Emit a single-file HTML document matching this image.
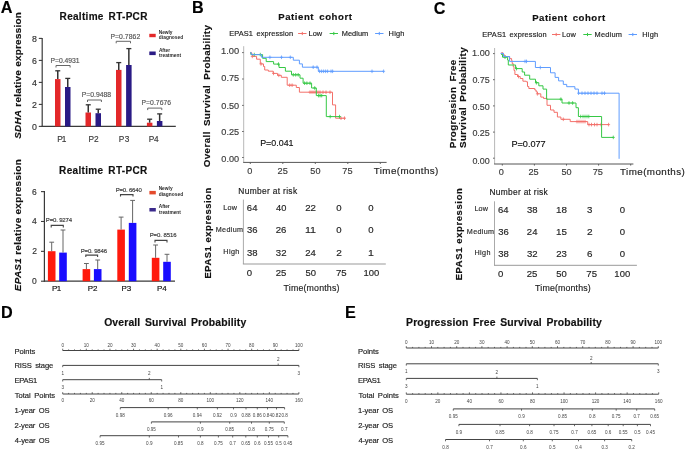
<!DOCTYPE html>
<html><head><meta charset="utf-8"><title>Figure</title>
<style>
html,body{margin:0;padding:0;background:#fff;}
body{width:685px;height:452px;overflow:hidden;}
svg{display:block;font-family:"Liberation Sans",sans-serif;filter:blur(0.35px);}
</style></head><body>
<svg width="685" height="452" viewBox="0 0 685 452">
<rect x="0" y="0" width="685" height="452" fill="#fff"/>
<text x="0.65" y="12.49" font-size="16.2" fill="#000" font-weight="bold" textLength="11.85" lengthAdjust="spacing" stroke="#000" stroke-width="0.16">A</text>
<text x="192.1" y="13.39" font-size="16.2" fill="#000" font-weight="bold" textLength="12.42" lengthAdjust="spacing" stroke="#000" stroke-width="0.16">B</text>
<text x="433.7" y="13.54" font-size="16.2" fill="#000" font-weight="bold" textLength="11.69" lengthAdjust="spacing" stroke="#000" stroke-width="0.16">C</text>
<text x="0.9" y="317.84" font-size="16.2" fill="#000" font-weight="bold" textLength="11.84" lengthAdjust="spacing" stroke="#000" stroke-width="0.16">D</text>
<text x="345.1" y="317.94" font-size="16.2" fill="#000" font-weight="bold" textLength="10.25" lengthAdjust="spacing" stroke="#000" stroke-width="0.16">E</text>
<text x="59.6" y="20.07" font-size="10" fill="#111" word-spacing="1.8" font-weight="bold" textLength="87.79" lengthAdjust="spacing" stroke="#111" stroke-width="0.16">Realtime RT-PCR</text>
<text transform="translate(20.9,138.85) rotate(-90)" font-size="9.9" fill="#111" font-weight="bold" textLength="126.69" lengthAdjust="spacing" stroke="#111" stroke-width="0.16"><tspan font-style="italic">SDHA</tspan> relative expression</text>
<line x1="42.2" y1="37.9" x2="42.2" y2="127" stroke="#3a3a3a" stroke-width="1.2"/>
<line x1="41.6" y1="126.4" x2="175.8" y2="126.4" stroke="#3a3a3a" stroke-width="1.2"/>
<line x1="38.8" y1="126.4" x2="42.2" y2="126.4" stroke="#3a3a3a" stroke-width="1.1"/>
<text x="31.92" y="129.78" font-size="8.8" fill="#333"  stroke="#333" stroke-width="0.16">0</text>
<line x1="38.8" y1="104.4" x2="42.2" y2="104.4" stroke="#3a3a3a" stroke-width="1.1"/>
<text x="32.06" y="107.78" font-size="8.8" fill="#333"  stroke="#333" stroke-width="0.16">2</text>
<line x1="38.8" y1="82.4" x2="42.2" y2="82.4" stroke="#3a3a3a" stroke-width="1.1"/>
<text x="31.88" y="85.78" font-size="8.8" fill="#333"  stroke="#333" stroke-width="0.16">4</text>
<line x1="38.8" y1="60.4" x2="42.2" y2="60.4" stroke="#3a3a3a" stroke-width="1.1"/>
<text x="31.97" y="63.78" font-size="8.8" fill="#333"  stroke="#333" stroke-width="0.16">6</text>
<line x1="38.8" y1="38.4" x2="42.2" y2="38.4" stroke="#3a3a3a" stroke-width="1.1"/>
<text x="31.97" y="41.78" font-size="8.8" fill="#333"  stroke="#333" stroke-width="0.16">8</text>
<rect x="55" y="79.1" width="5.5" height="47.3" fill="#e3282a"/>
<line x1="57.75" y1="70.8" x2="57.75" y2="79.1" stroke="#333" stroke-width="1.5"/>
<line x1="55.25" y1="70.8" x2="60.25" y2="70.8" stroke="#333" stroke-width="1.3"/>
<rect x="65" y="87" width="5.5" height="39.4" fill="#2a1b85"/>
<line x1="67.75" y1="78.4" x2="67.75" y2="87" stroke="#333" stroke-width="1.5"/>
<line x1="65.25" y1="78.4" x2="70.25" y2="78.4" stroke="#333" stroke-width="1.3"/>
<rect x="85.5" y="112.5" width="5.5" height="13.9" fill="#e3282a"/>
<line x1="88.25" y1="104.8" x2="88.25" y2="112.5" stroke="#333" stroke-width="1.5"/>
<line x1="85.75" y1="104.8" x2="90.75" y2="104.8" stroke="#333" stroke-width="1.3"/>
<rect x="95.5" y="113.2" width="5.5" height="13.2" fill="#2a1b85"/>
<line x1="98.25" y1="109.2" x2="98.25" y2="113.2" stroke="#333" stroke-width="1.5"/>
<line x1="95.75" y1="109.2" x2="100.75" y2="109.2" stroke="#333" stroke-width="1.3"/>
<rect x="116" y="69.9" width="5.5" height="56.5" fill="#e3282a"/>
<line x1="118.75" y1="62.6" x2="118.75" y2="69.9" stroke="#333" stroke-width="1.5"/>
<line x1="116.25" y1="62.6" x2="121.25" y2="62.6" stroke="#333" stroke-width="1.3"/>
<rect x="126.1" y="65" width="5.5" height="61.4" fill="#2a1b85"/>
<line x1="128.85" y1="48.6" x2="128.85" y2="65" stroke="#333" stroke-width="1.5"/>
<line x1="126.35" y1="48.6" x2="131.35" y2="48.6" stroke="#333" stroke-width="1.3"/>
<rect x="146.9" y="122.7" width="5.5" height="3.7" fill="#e3282a"/>
<line x1="149.65" y1="119.2" x2="149.65" y2="122.7" stroke="#333" stroke-width="1.5"/>
<line x1="147.15" y1="119.2" x2="152.15" y2="119.2" stroke="#333" stroke-width="1.3"/>
<rect x="156.9" y="121" width="5.5" height="5.4" fill="#2a1b85"/>
<line x1="159.65" y1="113.9" x2="159.65" y2="121" stroke="#333" stroke-width="1.5"/>
<line x1="157.15" y1="113.9" x2="162.15" y2="113.9" stroke="#333" stroke-width="1.3"/>
<text x="57.29" y="142.16" font-size="8.3" fill="#3a3a3a" textLength="9.16" lengthAdjust="spacing" stroke="#3a3a3a" stroke-width="0.16">P1</text>
<text x="88.39" y="142.21" font-size="8.3" fill="#3a3a3a" textLength="10.31" lengthAdjust="spacing" stroke="#3a3a3a" stroke-width="0.16">P2</text>
<text x="118.79" y="142.26" font-size="8.3" fill="#3a3a3a" textLength="10.62" lengthAdjust="spacing" stroke="#3a3a3a" stroke-width="0.16">P3</text>
<text x="148.69" y="142.26" font-size="8.3" fill="#3a3a3a" textLength="9.84" lengthAdjust="spacing" stroke="#3a3a3a" stroke-width="0.16">P4</text>
<text x="50.51" y="62.95" font-size="6.8" fill="#555" textLength="28.95" lengthAdjust="spacing" stroke="#555" stroke-width="0.16">P=0.4931</text>
<path d="M56 67.5 V65.5 H70.1 V67.5" stroke="#666" stroke-width="1" fill="none" />
<text x="81.81" y="96.55" font-size="6.8" fill="#555" textLength="29.31" lengthAdjust="spacing" stroke="#555" stroke-width="0.16">P=0.9488</text>
<path d="M87.5 102 V100 H101.4 V102" stroke="#666" stroke-width="1" fill="none" />
<text x="110.41" y="38.65" font-size="6.8" fill="#555" textLength="29.78" lengthAdjust="spacing" stroke="#555" stroke-width="0.16">P=0.7862</text>
<path d="M116.2 43.3 V41.3 H130.5 V43.3" stroke="#666" stroke-width="1" fill="none" />
<text x="141.51" y="105.35" font-size="6.8" fill="#555" textLength="29.61" lengthAdjust="spacing" stroke="#555" stroke-width="0.16">P=0.7676</text>
<path d="M147.7 110.1 V108.1 H161.8 V110.1" stroke="#666" stroke-width="1" fill="none" />
<rect x="149.3" y="33.8" width="6.4" height="3.4" fill="#e3282a"/>
<rect x="149.3" y="51.5" width="6.4" height="3.6" fill="#2a1b85"/>
<text x="158.74" y="33.79" font-size="4.8" fill="#2a2a2a" font-weight="bold" textLength="13.74" lengthAdjust="spacing">Newly</text>
<text x="158.86" y="38.89" font-size="4.8" fill="#2a2a2a" font-weight="bold" textLength="24.31" lengthAdjust="spacing">diagnosed</text>
<text x="158.93" y="51.52" font-size="4.8" fill="#2a2a2a" font-weight="bold" textLength="11.09" lengthAdjust="spacing">After</text>
<text x="159" y="56.9" font-size="4.8" fill="#2a2a2a" font-weight="bold" textLength="22" lengthAdjust="spacing">treatment</text>
<text x="59.1" y="174.02" font-size="10" fill="#111" word-spacing="1.8" font-weight="bold" textLength="88.19" lengthAdjust="spacing" stroke="#111" stroke-width="0.16">Realtime RT-PCR</text>
<text transform="translate(21,291.19) rotate(-90)" font-size="9.9" fill="#111" font-weight="bold" textLength="131.93" lengthAdjust="spacing" stroke="#111" stroke-width="0.16"><tspan font-style="italic">EPAS1</tspan> relative expression</text>
<line x1="44.4" y1="191.12" x2="44.4" y2="281.8" stroke="#3a3a3a" stroke-width="1.2"/>
<line x1="43.8" y1="281.2" x2="175" y2="281.2" stroke="#3a3a3a" stroke-width="1.2"/>
<line x1="41" y1="281.2" x2="44.4" y2="281.2" stroke="#3a3a3a" stroke-width="1.1"/>
<text x="32.08" y="284.18" font-size="8.5" fill="#333"  stroke="#333" stroke-width="0.16">0</text>
<line x1="41" y1="251.34" x2="44.4" y2="251.34" stroke="#3a3a3a" stroke-width="1.1"/>
<text x="32.21" y="254.31" font-size="8.5" fill="#333"  stroke="#333" stroke-width="0.16">2</text>
<line x1="41" y1="221.48" x2="44.4" y2="221.48" stroke="#3a3a3a" stroke-width="1.1"/>
<text x="32.04" y="224.45" font-size="8.5" fill="#333"  stroke="#333" stroke-width="0.16">4</text>
<line x1="41" y1="191.62" x2="44.4" y2="191.62" stroke="#3a3a3a" stroke-width="1.1"/>
<text x="32.12" y="194.59" font-size="8.5" fill="#333"  stroke="#333" stroke-width="0.16">6</text>
<rect x="47.9" y="251.2" width="7.6" height="30" fill="#ff1a0d"/>
<line x1="51.7" y1="242.2" x2="51.7" y2="251.2" stroke="#666" stroke-width="1"/>
<line x1="49.3" y1="242.2" x2="54.1" y2="242.2" stroke="#666" stroke-width="1"/>
<rect x="59.2" y="252.6" width="7.6" height="28.6" fill="#1a0dff"/>
<line x1="63" y1="230" x2="63" y2="252.6" stroke="#666" stroke-width="1"/>
<line x1="60.6" y1="230" x2="65.4" y2="230" stroke="#666" stroke-width="1"/>
<rect x="82.6" y="269.1" width="7.6" height="12.1" fill="#ff1a0d"/>
<line x1="86.4" y1="263.5" x2="86.4" y2="269.1" stroke="#666" stroke-width="1"/>
<line x1="84" y1="263.5" x2="88.8" y2="263.5" stroke="#666" stroke-width="1"/>
<rect x="93.9" y="269.1" width="7.6" height="12.1" fill="#1a0dff"/>
<line x1="97.7" y1="260" x2="97.7" y2="269.1" stroke="#666" stroke-width="1"/>
<line x1="95.3" y1="260" x2="100.1" y2="260" stroke="#666" stroke-width="1"/>
<rect x="117.3" y="229.6" width="7.6" height="51.6" fill="#ff1a0d"/>
<line x1="121.1" y1="217.1" x2="121.1" y2="229.6" stroke="#666" stroke-width="1"/>
<line x1="118.7" y1="217.1" x2="123.5" y2="217.1" stroke="#666" stroke-width="1"/>
<rect x="128.8" y="222.9" width="7.6" height="58.3" fill="#1a0dff"/>
<line x1="132.6" y1="200.4" x2="132.6" y2="222.9" stroke="#666" stroke-width="1"/>
<line x1="130.2" y1="200.4" x2="135" y2="200.4" stroke="#666" stroke-width="1"/>
<rect x="151.8" y="257.8" width="7.6" height="23.4" fill="#ff1a0d"/>
<line x1="155.6" y1="245" x2="155.6" y2="257.8" stroke="#666" stroke-width="1"/>
<line x1="153.2" y1="245" x2="158" y2="245" stroke="#666" stroke-width="1"/>
<rect x="163.2" y="261.8" width="7.6" height="19.4" fill="#1a0dff"/>
<line x1="167" y1="254.3" x2="167" y2="261.8" stroke="#666" stroke-width="1"/>
<line x1="164.6" y1="254.3" x2="169.4" y2="254.3" stroke="#666" stroke-width="1"/>
<text x="52.01" y="291.36" font-size="8" fill="#111" textLength="9.23" lengthAdjust="spacing" stroke="#111" stroke-width="0.16">P1</text>
<text x="87.71" y="291.4" font-size="8" fill="#111" textLength="9.77" lengthAdjust="spacing" stroke="#111" stroke-width="0.16">P2</text>
<text x="121.41" y="291.36" font-size="8" fill="#111" textLength="9.69" lengthAdjust="spacing" stroke="#111" stroke-width="0.16">P3</text>
<text x="157.01" y="291.36" font-size="8" fill="#111" textLength="9.71" lengthAdjust="spacing" stroke="#111" stroke-width="0.16">P4</text>
<text x="45.87" y="222.07" font-size="6" fill="#3a3a3a" textLength="26.17" lengthAdjust="spacing" stroke="#3a3a3a" stroke-width="0.16">P=0. 9274</text>
<path d="M51.2 227.4 V225.4 H63.3 V227.4" stroke="#444" stroke-width="1.1" fill="none" />
<text x="80.67" y="252.77" font-size="6" fill="#3a3a3a" textLength="26.43" lengthAdjust="spacing" stroke="#3a3a3a" stroke-width="0.16">P=0. 9846</text>
<path d="M85.8 257.1 V255.1 H97.6 V257.1" stroke="#444" stroke-width="1.1" fill="none" />
<text x="115.67" y="192.07" font-size="6" fill="#3a3a3a" textLength="26.1" lengthAdjust="spacing" stroke="#3a3a3a" stroke-width="0.16">P=0. 6640</text>
<path d="M120.5 196.6 V194.6 H133 V196.6" stroke="#444" stroke-width="1.1" fill="none" />
<text x="149.67" y="237.17" font-size="6" fill="#3a3a3a" textLength="26.93" lengthAdjust="spacing" stroke="#3a3a3a" stroke-width="0.16">P=0. 8516</text>
<path d="M155 242.4 V240.4 H167 V242.4" stroke="#444" stroke-width="1.1" fill="none" />
<rect x="149.4" y="190.9" width="6.4" height="3.5" fill="#e44a2c"/>
<rect x="149.4" y="208" width="6.4" height="3.5" fill="#3b2a8c"/>
<text x="158.64" y="190.04" font-size="4.8" fill="#2a2a2a" font-weight="bold" textLength="13.94" lengthAdjust="spacing">Newly</text>
<text x="158.76" y="195.69" font-size="4.8" fill="#2a2a2a" font-weight="bold" textLength="24.31" lengthAdjust="spacing">diagnosed</text>
<text x="158.83" y="208.22" font-size="4.8" fill="#2a2a2a" font-weight="bold" textLength="10.79" lengthAdjust="spacing">After</text>
<text x="158.9" y="213.6" font-size="4.8" fill="#2a2a2a" font-weight="bold" textLength="22" lengthAdjust="spacing">treatment</text>
<text x="278.23" y="19.93" font-size="9.6" fill="#111" word-spacing="2" font-weight="bold" textLength="73.65" lengthAdjust="spacing" stroke="#111" stroke-width="0.16">Patient cohort</text>
<text x="229.21" y="36" font-size="7.4" fill="#222" word-spacing="1.2" textLength="63.97" lengthAdjust="spacing" stroke="#222" stroke-width="0.16">EPAS1 expression</text>
<line x1="298.1" y1="33.5" x2="306.5" y2="33.5" stroke="#F3706A" stroke-width="1"/>
<line x1="302.3" y1="31.9" x2="302.3" y2="35.1" stroke="#F3706A" stroke-width="1"/>
<text x="308.51" y="36" font-size="7.4" fill="#222" textLength="13.69" lengthAdjust="spacing" stroke="#222" stroke-width="0.16">Low</text>
<line x1="329.6" y1="33.5" x2="338" y2="33.5" stroke="#36C845" stroke-width="1"/>
<line x1="333.8" y1="31.9" x2="333.8" y2="35.1" stroke="#36C845" stroke-width="1"/>
<text x="341.71" y="36" font-size="7.4" fill="#222" textLength="26.55" lengthAdjust="spacing" stroke="#222" stroke-width="0.16">Medium</text>
<line x1="375.1" y1="33.5" x2="383.5" y2="33.5" stroke="#5E9CFF" stroke-width="1"/>
<line x1="379.3" y1="31.9" x2="379.3" y2="35.1" stroke="#5E9CFF" stroke-width="1"/>
<text x="388.61" y="36" font-size="7.4" fill="#222" textLength="15.79" lengthAdjust="spacing" stroke="#222" stroke-width="0.16">High</text>
<text transform="translate(209.97,167.24) rotate(-90)" font-size="9.8" fill="#111" word-spacing="2" font-weight="bold" textLength="142.15" lengthAdjust="spacing" stroke="#111" stroke-width="0.16">Overall Survival Probability</text>
<line x1="243.7" y1="46.2" x2="243.7" y2="162.4" stroke="#b8b8b8" stroke-width="1"/>
<line x1="243.2" y1="162.4" x2="386.6" y2="162.4" stroke="#555" stroke-width="1"/>
<line x1="242.1" y1="157.5" x2="243.7" y2="157.5" stroke="#555" stroke-width="0.9"/>
<text x="221.39" y="162.1" font-size="9" fill="#3c3c3c" textLength="17.8" lengthAdjust="spacingAndGlyphs" stroke="#3c3c3c" stroke-width="0.16">0.00</text>
<line x1="242.1" y1="131.5" x2="243.7" y2="131.5" stroke="#555" stroke-width="0.9"/>
<text x="221.39" y="134.5" font-size="9" fill="#3c3c3c" textLength="17.85" lengthAdjust="spacingAndGlyphs" stroke="#3c3c3c" stroke-width="0.16">0.25</text>
<line x1="242.1" y1="105.4" x2="243.7" y2="105.4" stroke="#555" stroke-width="0.9"/>
<text x="221.39" y="108.61" font-size="9" fill="#3c3c3c" textLength="17.8" lengthAdjust="spacingAndGlyphs" stroke="#3c3c3c" stroke-width="0.16">0.50</text>
<line x1="242.1" y1="79" x2="243.7" y2="79" stroke="#555" stroke-width="0.9"/>
<text x="221.39" y="81.41" font-size="9" fill="#3c3c3c" textLength="17.85" lengthAdjust="spacingAndGlyphs" stroke="#3c3c3c" stroke-width="0.16">0.75</text>
<line x1="242.1" y1="52.6" x2="243.7" y2="52.6" stroke="#555" stroke-width="0.9"/>
<text x="221.07" y="54.3" font-size="9" fill="#3c3c3c" textLength="18.14" lengthAdjust="spacingAndGlyphs" stroke="#3c3c3c" stroke-width="0.16">1.00</text>
<line x1="250.3" y1="162.4" x2="250.3" y2="164" stroke="#555" stroke-width="0.9"/>
<line x1="282.8" y1="162.4" x2="282.8" y2="164" stroke="#555" stroke-width="0.9"/>
<line x1="315.3" y1="162.4" x2="315.3" y2="164" stroke="#555" stroke-width="0.9"/>
<line x1="347.8" y1="162.4" x2="347.8" y2="164" stroke="#555" stroke-width="0.9"/>
<line x1="380.3" y1="162.4" x2="380.3" y2="164" stroke="#555" stroke-width="0.9"/>
<text x="247.34" y="173.96" font-size="9" fill="#3c3c3c" textLength="5.1" lengthAdjust="spacingAndGlyphs" stroke="#3c3c3c" stroke-width="0.16">0</text>
<text x="277.55" y="173.96" font-size="9" fill="#3c3c3c" textLength="10.25" lengthAdjust="spacingAndGlyphs" stroke="#3c3c3c" stroke-width="0.16">25</text>
<text x="310.34" y="173.96" font-size="9" fill="#3c3c3c" textLength="10.1" lengthAdjust="spacingAndGlyphs" stroke="#3c3c3c" stroke-width="0.16">50</text>
<text x="342.35" y="173.91" font-size="9" fill="#3c3c3c" textLength="10.25" lengthAdjust="spacingAndGlyphs" stroke="#3c3c3c" stroke-width="0.16">75</text>
<text x="373.75" y="174.17" font-size="9.8" fill="#222" textLength="64.59" lengthAdjust="spacing" stroke="#222" stroke-width="0.16">Time(months)</text>
<text x="260.18" y="146.01" font-size="9.6" fill="#111" textLength="33.34" lengthAdjust="spacingAndGlyphs" stroke="#111" stroke-width="0.16">P=0.041</text>
<path d="M250.3 52.4 H251.3 V54 H252.8 V56.4 H256.6 V59.2 H260.3 V63.9 H263.5 V66.5 H264.7 V70 H268.3 V71.2 H273.2 V73.4 H277.5 V75.3 H281.3 V77.3 H287.2 V85.2 H296.3 V87.5 H299.4 V92.2 H332.5 V104.9 H335.6 V118.2 H345.2" stroke="#F3706A" stroke-width="1" fill="none" stroke-linejoin="miter"/>
<path d="M250.8 56.4 h3 M252.3 54.6 v3.6 M259.5 63.9 h3 M261 62.1 v3.6 M272 73.4 h3 M273.5 71.6 v3.6 M277.3 75.3 h3 M278.8 73.5 v3.6 M288.2 85.2 h3 M289.7 83.4 v3.6 M290.6 85.2 h3 M292.1 83.4 v3.6 M308.5 92.2 h3 M310 90.4 v3.6 M310.5 92.2 h3 M312 90.4 v3.6 M312.5 92.2 h3 M314 90.4 v3.6 M314.5 92.2 h3 M316 90.4 v3.6 M316.5 92.2 h3 M318 90.4 v3.6 M318.5 92.2 h3 M320 90.4 v3.6 M321.5 92.2 h3 M323 90.4 v3.6 M324.5 92.2 h3 M326 90.4 v3.6 M328.5 92.2 h3 M330 90.4 v3.6 M339.5 118.2 h3 M341 116.4 v3.6 M343 118.2 h3 M344.5 116.4 v3.6 " stroke="#F3706A" stroke-width="0.8" fill="none" />
<path d="M250.3 52.8 H250.9 V54.6 H262.6 V58.3 H266.2 V61.6 H273.6 V64.1 H279 V67.5 H285.4 V71.2 H291.5 V74.8 H300 V78.2 H303.1 V83.2 H311.6 V88 H316.3 V95.6 H326.3 V116.6 H340.3" stroke="#36C845" stroke-width="1" fill="none" stroke-linejoin="miter"/>
<path d="M252.8 54.6 h3 M254.3 52.8 v3.6 M258.8 54.6 h3 M260.3 52.8 v3.6 M277 64.1 h3 M278.5 62.3 v3.6 M291.8 74.8 h3 M293.3 73 v3.6 M294.2 74.8 h3 M295.7 73 v3.6 M296.7 74.8 h3 M298.2 73 v3.6 M303.1 83.2 h3 M304.6 81.4 v3.6 M305.4 83.2 h3 M306.9 81.4 v3.6 M308.5 83.2 h3 M310 81.4 v3.6 M313.2 88 h3 M314.7 86.2 v3.6 M317.1 95.6 h3 M318.6 93.8 v3.6 M318.6 95.6 h3 M320.1 93.8 v3.6 M320.2 95.6 h3 M321.7 93.8 v3.6 M328.7 116.6 h3 M330.2 114.8 v3.6 M338 116.6 h3 M339.5 114.8 v3.6 " stroke="#36C845" stroke-width="0.8" fill="none" />
<path d="M250.3 52.6 H251.2 V54.6 H261.6 V57.3 H293.3 V60.2 H299.4 V63.9 H302.4 V67.2 H318.3 V71.3 H383.6" stroke="#5E9CFF" stroke-width="1" fill="none" stroke-linejoin="miter"/>
<path d="M268.4 57.3 h3 M269.9 55.5 v3.6 M280 57.3 h3 M281.5 55.5 v3.6 M288.8 57.3 h3 M290.3 55.5 v3.6 M311.7 67.2 h3 M313.2 65.4 v3.6 M315.5 67.2 h3 M317 65.4 v3.6 M318.1 71.3 h3 M319.6 69.5 v3.6 M320.1 71.3 h3 M321.6 69.5 v3.6 M322.1 71.3 h3 M323.6 69.5 v3.6 M324.1 71.3 h3 M325.6 69.5 v3.6 M326.1 71.3 h3 M327.6 69.5 v3.6 M329.5 71.3 h3 M331 69.5 v3.6 M331.1 71.3 h3 M332.6 69.5 v3.6 M370.5 71.3 h3 M372 69.5 v3.6 M382.1 71.3 h3 M383.6 69.5 v3.6 " stroke="#5E9CFF" stroke-width="0.8" fill="none" />
<text x="238.28" y="193.7" font-size="8.4" fill="#1a1a1a" textLength="58.79" lengthAdjust="spacing" stroke="#1a1a1a" stroke-width="0.16">Number at risk</text>
<line x1="243.4" y1="199.6" x2="243.4" y2="264" stroke="#aaa" stroke-width="1"/>
<line x1="242.9" y1="264" x2="385.8" y2="264" stroke="#999" stroke-width="1"/>
<text x="223.37" y="209.7" font-size="7.2" fill="#2a2a2a" textLength="13.47" lengthAdjust="spacing" stroke="#2a2a2a" stroke-width="0.16">Low</text>
<text x="215.67" y="231.92" font-size="7.2" fill="#2a2a2a" textLength="27.42" lengthAdjust="spacing" stroke="#2a2a2a" stroke-width="0.16">Medium</text>
<text x="223.37" y="253.9" font-size="7.2" fill="#2a2a2a" textLength="15.86" lengthAdjust="spacing" stroke="#2a2a2a" stroke-width="0.16">High</text>
<text x="246.86" y="211.29" font-size="8.8" fill="#262626" textLength="10.58" lengthAdjust="spacingAndGlyphs" stroke="#262626" stroke-width="0.16">64</text>
<text x="276.02" y="211.29" font-size="8.8" fill="#262626" textLength="10.33" lengthAdjust="spacingAndGlyphs" stroke="#262626" stroke-width="0.16">40</text>
<text x="305.16" y="211.33" font-size="8.8" fill="#262626" textLength="10.79" lengthAdjust="spacingAndGlyphs" stroke="#262626" stroke-width="0.16">22</text>
<text x="336.25" y="211.29" font-size="8.8" fill="#262626" textLength="5.33" lengthAdjust="spacingAndGlyphs" stroke="#262626" stroke-width="0.16">0</text>
<text x="368.25" y="211.29" font-size="8.8" fill="#262626" textLength="5.33" lengthAdjust="spacingAndGlyphs" stroke="#262626" stroke-width="0.16">0</text>
<text x="246.95" y="233.39" font-size="8.8" fill="#262626" textLength="10.58" lengthAdjust="spacingAndGlyphs" stroke="#262626" stroke-width="0.16">36</text>
<text x="275.76" y="233.39" font-size="8.8" fill="#262626" textLength="10.69" lengthAdjust="spacingAndGlyphs" stroke="#262626" stroke-width="0.16">26</text>
<text x="304.94" y="233.39" font-size="8.8" fill="#262626" textLength="11.12" lengthAdjust="spacingAndGlyphs" stroke="#262626" stroke-width="0.16">11</text>
<text x="336.25" y="233.39" font-size="8.8" fill="#262626" textLength="5.33" lengthAdjust="spacingAndGlyphs" stroke="#262626" stroke-width="0.16">0</text>
<text x="368.25" y="233.39" font-size="8.8" fill="#262626" textLength="5.33" lengthAdjust="spacingAndGlyphs" stroke="#262626" stroke-width="0.16">0</text>
<text x="246.95" y="255.74" font-size="8.8" fill="#262626" textLength="10.58" lengthAdjust="spacingAndGlyphs" stroke="#262626" stroke-width="0.16">38</text>
<text x="275.85" y="255.74" font-size="8.8" fill="#262626" textLength="10.69" lengthAdjust="spacingAndGlyphs" stroke="#262626" stroke-width="0.16">32</text>
<text x="305.16" y="255.78" font-size="8.8" fill="#262626" textLength="10.58" lengthAdjust="spacingAndGlyphs" stroke="#262626" stroke-width="0.16">24</text>
<text x="336.16" y="255.78" font-size="8.8" fill="#262626" textLength="5.62" lengthAdjust="spacingAndGlyphs" stroke="#262626" stroke-width="0.16">2</text>
<text x="367.94" y="255.74" font-size="8.8" fill="#262626" textLength="5.88" lengthAdjust="spacingAndGlyphs" stroke="#262626" stroke-width="0.16">1</text>
<text x="246.74" y="276.11" font-size="9" fill="#262626" textLength="5.33" lengthAdjust="spacingAndGlyphs" stroke="#262626" stroke-width="0.16">0</text>
<text x="275.65" y="276.11" font-size="9" fill="#262626" textLength="10.69" lengthAdjust="spacingAndGlyphs" stroke="#262626" stroke-width="0.16">25</text>
<text x="305.44" y="276.11" font-size="9" fill="#262626" textLength="10.53" lengthAdjust="spacingAndGlyphs" stroke="#262626" stroke-width="0.16">50</text>
<text x="335.95" y="276.06" font-size="9" fill="#262626" textLength="10.69" lengthAdjust="spacingAndGlyphs" stroke="#262626" stroke-width="0.16">75</text>
<text x="363.57" y="276.11" font-size="9" fill="#262626" textLength="15.77" lengthAdjust="spacingAndGlyphs" stroke="#262626" stroke-width="0.16">100</text>
<text x="283.57" y="290.57" font-size="8.8" fill="#222" textLength="55.81" lengthAdjust="spacing" stroke="#222" stroke-width="0.16">Time(months)</text>
<text transform="translate(210.5,278.51) rotate(-90)" font-size="9.4" fill="#111" font-weight="bold" textLength="90.66" lengthAdjust="spacing" stroke="#111" stroke-width="0.16">EPAS1 expression</text>
<text x="532.23" y="21.08" font-size="9.6" fill="#111" word-spacing="2" font-weight="bold" textLength="72.85" lengthAdjust="spacing" stroke="#111" stroke-width="0.16">Patient cohort</text>
<text x="482.21" y="37.3" font-size="7.4" fill="#222" word-spacing="1.2" textLength="64.47" lengthAdjust="spacing" stroke="#222" stroke-width="0.16">EPAS1 expression</text>
<line x1="552" y1="34.5" x2="560.4" y2="34.5" stroke="#F3706A" stroke-width="1"/>
<line x1="556.2" y1="32.9" x2="556.2" y2="36.1" stroke="#F3706A" stroke-width="1"/>
<text x="562.11" y="37.3" font-size="7.4" fill="#222" textLength="13.79" lengthAdjust="spacing" stroke="#222" stroke-width="0.16">Low</text>
<line x1="583.3" y1="34.5" x2="591.7" y2="34.5" stroke="#36C845" stroke-width="1"/>
<line x1="587.5" y1="32.9" x2="587.5" y2="36.1" stroke="#36C845" stroke-width="1"/>
<text x="594.61" y="37.3" font-size="7.4" fill="#222" textLength="27.25" lengthAdjust="spacing" stroke="#222" stroke-width="0.16">Medium</text>
<line x1="628.6" y1="34.5" x2="637" y2="34.5" stroke="#5E9CFF" stroke-width="1"/>
<line x1="632.8" y1="32.9" x2="632.8" y2="36.1" stroke="#5E9CFF" stroke-width="1"/>
<text x="642.31" y="37.3" font-size="7.4" fill="#222" textLength="15.79" lengthAdjust="spacing" stroke="#222" stroke-width="0.16">High</text>
<text transform="translate(455.62,148.29) rotate(-90)" font-size="9.8" fill="#111" word-spacing="2" font-weight="bold" textLength="88.58" lengthAdjust="spacing" stroke="#111" stroke-width="0.16">Progression Free</text>
<text transform="translate(465.97,147.94) rotate(-90)" font-size="9.8" fill="#111" word-spacing="2" font-weight="bold" textLength="100.56" lengthAdjust="spacing" stroke="#111" stroke-width="0.16">Survival Probability</text>
<line x1="494.6" y1="48" x2="494.6" y2="164" stroke="#b8b8b8" stroke-width="1"/>
<line x1="494.1" y1="164" x2="633.4" y2="164" stroke="#555" stroke-width="1"/>
<line x1="493" y1="158.2" x2="494.6" y2="158.2" stroke="#555" stroke-width="0.9"/>
<text x="472.39" y="163.5" font-size="9" fill="#3c3c3c" textLength="17.38" lengthAdjust="spacingAndGlyphs" stroke="#3c3c3c" stroke-width="0.16">0.00</text>
<line x1="493" y1="132.1" x2="494.6" y2="132.1" stroke="#555" stroke-width="0.9"/>
<text x="472.39" y="136.3" font-size="9" fill="#3c3c3c" textLength="17.43" lengthAdjust="spacingAndGlyphs" stroke="#3c3c3c" stroke-width="0.16">0.25</text>
<line x1="493" y1="105.9" x2="494.6" y2="105.9" stroke="#555" stroke-width="0.9"/>
<text x="472.39" y="109.7" font-size="9" fill="#3c3c3c" textLength="17.38" lengthAdjust="spacingAndGlyphs" stroke="#3c3c3c" stroke-width="0.16">0.50</text>
<line x1="493" y1="79.7" x2="494.6" y2="79.7" stroke="#555" stroke-width="0.9"/>
<text x="472.39" y="82.81" font-size="9" fill="#3c3c3c" textLength="17.43" lengthAdjust="spacingAndGlyphs" stroke="#3c3c3c" stroke-width="0.16">0.75</text>
<line x1="493" y1="53.6" x2="494.6" y2="53.6" stroke="#555" stroke-width="0.9"/>
<text x="472.07" y="56.3" font-size="9" fill="#3c3c3c" textLength="17.71" lengthAdjust="spacingAndGlyphs" stroke="#3c3c3c" stroke-width="0.16">1.00</text>
<line x1="502.3" y1="164" x2="502.3" y2="165.6" stroke="#555" stroke-width="0.9"/>
<line x1="534.4" y1="164" x2="534.4" y2="165.6" stroke="#555" stroke-width="0.9"/>
<line x1="566.5" y1="164" x2="566.5" y2="165.6" stroke="#555" stroke-width="0.9"/>
<line x1="598.6" y1="164" x2="598.6" y2="165.6" stroke="#555" stroke-width="0.9"/>
<line x1="630.7" y1="164" x2="630.7" y2="165.6" stroke="#555" stroke-width="0.9"/>
<text x="498.74" y="175" font-size="9" fill="#3c3c3c" textLength="5.1" lengthAdjust="spacingAndGlyphs" stroke="#3c3c3c" stroke-width="0.16">0</text>
<text x="528.45" y="175" font-size="9" fill="#3c3c3c" textLength="10.25" lengthAdjust="spacingAndGlyphs" stroke="#3c3c3c" stroke-width="0.16">25</text>
<text x="561.44" y="175" font-size="9" fill="#3c3c3c" textLength="10.1" lengthAdjust="spacingAndGlyphs" stroke="#3c3c3c" stroke-width="0.16">50</text>
<text x="592.75" y="174.96" font-size="9" fill="#3c3c3c" textLength="10.25" lengthAdjust="spacingAndGlyphs" stroke="#3c3c3c" stroke-width="0.16">75</text>
<text x="620.05" y="175.07" font-size="9.8" fill="#222" textLength="64.69" lengthAdjust="spacing" stroke="#222" stroke-width="0.16">Time(months)</text>
<text x="511.38" y="147.01" font-size="9.6" fill="#111" textLength="34.32" lengthAdjust="spacingAndGlyphs" stroke="#111" stroke-width="0.16">P=0.077</text>
<path d="M501.2 52.8 H503 V55 H505 V56.6 H509.6 V58.6 H511.6 V60.6 H512.2 V63.6 H513.2 V66.6 H514 V70.5 H514.9 V74.5 H517.5 V76.5 H520.2 V78.5 H522.9 V81.2 H526.2 V81.8 H527.5 V86.5 H528.8 V88.5 H534.8 V90 H536.1 V91.8 H537.4 V93.8 H540.8 V97.1 H543.5 V98.4 H547 V105.3 H550.5 V110 H554 V112.3 H557.4 V117 H560.9 V119.3 H570.2 V121.6 H587.7 V124.6 H608.6" stroke="#F3706A" stroke-width="1" fill="none" stroke-linejoin="miter"/>
<path d="M517 76.5 h3 M518.5 74.7 v3.6 M535.9 93.8 h3 M537.4 92 v3.6 M561.8 119.3 h3 M563.3 117.5 v3.6 M575.5 121.6 h3 M577 119.8 v3.6 M577.5 121.6 h3 M579 119.8 v3.6 M579.5 121.6 h3 M581 119.8 v3.6 M581.5 121.6 h3 M583 119.8 v3.6 M583.5 121.6 h3 M585 119.8 v3.6 M587.5 124.6 h3 M589 122.8 v3.6 M590 124.6 h3 M591.5 122.8 v3.6 M593 124.6 h3 M594.5 122.8 v3.6 M595.5 124.6 h3 M597 122.8 v3.6 M599.5 124.6 h3 M601 122.8 v3.6 M607.1 124.6 h3 M608.6 122.8 v3.6 " stroke="#F3706A" stroke-width="0.8" fill="none" />
<path d="M501 54.4 H502.5 V57.2 H507.6 V60 H508.3 V65 H515.6 V68.6 H522.2 V72 H524.6 V75.2 H529.7 V79.2 H535.5 V82.7 H538.8 V85.8 H543 V89.1 H546.6 V99.2 H562 V103 H576 V107.7 H578.4 V116.5 H601.6 V137.4 H613.3" stroke="#36C845" stroke-width="1" fill="none" stroke-linejoin="miter"/>
<path d="M503.5 57.2 h3 M505 55.4 v3.6 M515 68.6 h3 M516.5 66.8 v3.6 M534.9 82.7 h3 M536.4 80.9 v3.6 M559.4 99.2 h3 M560.9 97.4 v3.6 M567.5 103 h3 M569 101.2 v3.6 M571.1 103 h3 M572.6 101.2 v3.6 M579.2 116.5 h3 M580.7 114.7 v3.6 M581.5 116.5 h3 M583 114.7 v3.6 M583.5 116.5 h3 M585 114.7 v3.6 M585.5 116.5 h3 M587 114.7 v3.6 M587.3 116.5 h3 M588.8 114.7 v3.6 M611.8 137.4 h3 M613.3 135.6 v3.6 " stroke="#36C845" stroke-width="0.8" fill="none" />
<path d="M500.5 53.4 H503.5 V56.6 H509.6 V61.4 H535.4 V67.5 H550.5 V72.8 H555.1 V77.4 H558.6 V80.9 H563.3 V84.4 H566.7 V86.7 H574.9 V89.1 H578.4 V93.2 H619.1 V158.8" stroke="#5E9CFF" stroke-width="1" fill="none" stroke-linejoin="miter"/>
<path d="M523.5 61.4 h3 M525 59.6 v3.6 M525 61.4 h3 M526.5 59.6 v3.6 M538.8 67.5 h3 M540.3 65.7 v3.6 M577.1 93.2 h3 M578.6 91.4 v3.6 M580.5 93.2 h3 M582 91.4 v3.6 M583.5 93.2 h3 M585 91.4 v3.6 M586.5 93.2 h3 M588 91.4 v3.6 M589.5 93.2 h3 M591 91.4 v3.6 M592.5 93.2 h3 M594 91.4 v3.6 M595.5 93.2 h3 M597 91.4 v3.6 M600.5 93.2 h3 M602 91.4 v3.6 M603 93.2 h3 M604.5 91.4 v3.6 " stroke="#5E9CFF" stroke-width="0.8" fill="none" />
<text x="489.38" y="194.8" font-size="8.4" fill="#1a1a1a" textLength="58.39" lengthAdjust="spacing" stroke="#1a1a1a" stroke-width="0.16">Number at risk</text>
<line x1="494.5" y1="201.3" x2="494.5" y2="265.3" stroke="#aaa" stroke-width="1"/>
<line x1="494" y1="265.3" x2="636.9" y2="265.3" stroke="#999" stroke-width="1"/>
<text x="474.47" y="211.1" font-size="7.2" fill="#2a2a2a" textLength="13.47" lengthAdjust="spacing" stroke="#2a2a2a" stroke-width="0.16">Low</text>
<text x="466.87" y="233.52" font-size="7.2" fill="#2a2a2a" textLength="27.22" lengthAdjust="spacing" stroke="#2a2a2a" stroke-width="0.16">Medium</text>
<text x="474.47" y="255.25" font-size="7.2" fill="#2a2a2a" textLength="15.96" lengthAdjust="spacing" stroke="#2a2a2a" stroke-width="0.16">High</text>
<text x="498.06" y="212.79" font-size="8.8" fill="#262626" textLength="10.58" lengthAdjust="spacingAndGlyphs" stroke="#262626" stroke-width="0.16">64</text>
<text x="526.95" y="212.79" font-size="8.8" fill="#262626" textLength="10.58" lengthAdjust="spacingAndGlyphs" stroke="#262626" stroke-width="0.16">38</text>
<text x="555.94" y="212.79" font-size="8.8" fill="#262626" textLength="10.96" lengthAdjust="spacingAndGlyphs" stroke="#262626" stroke-width="0.16">18</text>
<text x="587.05" y="212.79" font-size="8.8" fill="#262626" textLength="5.39" lengthAdjust="spacingAndGlyphs" stroke="#262626" stroke-width="0.16">3</text>
<text x="619.65" y="212.79" font-size="8.8" fill="#262626" textLength="5.33" lengthAdjust="spacingAndGlyphs" stroke="#262626" stroke-width="0.16">0</text>
<text x="498.15" y="235.09" font-size="8.8" fill="#262626" textLength="10.58" lengthAdjust="spacingAndGlyphs" stroke="#262626" stroke-width="0.16">36</text>
<text x="526.86" y="235.13" font-size="8.8" fill="#262626" textLength="10.58" lengthAdjust="spacingAndGlyphs" stroke="#262626" stroke-width="0.16">24</text>
<text x="555.94" y="235.04" font-size="8.8" fill="#262626" textLength="10.96" lengthAdjust="spacingAndGlyphs" stroke="#262626" stroke-width="0.16">15</text>
<text x="586.96" y="235.13" font-size="8.8" fill="#262626" textLength="5.62" lengthAdjust="spacingAndGlyphs" stroke="#262626" stroke-width="0.16">2</text>
<text x="619.65" y="235.09" font-size="8.8" fill="#262626" textLength="5.33" lengthAdjust="spacingAndGlyphs" stroke="#262626" stroke-width="0.16">0</text>
<text x="498.15" y="257.09" font-size="8.8" fill="#262626" textLength="10.58" lengthAdjust="spacingAndGlyphs" stroke="#262626" stroke-width="0.16">38</text>
<text x="526.95" y="257.09" font-size="8.8" fill="#262626" textLength="10.69" lengthAdjust="spacingAndGlyphs" stroke="#262626" stroke-width="0.16">32</text>
<text x="556.16" y="257.09" font-size="8.8" fill="#262626" textLength="10.69" lengthAdjust="spacingAndGlyphs" stroke="#262626" stroke-width="0.16">23</text>
<text x="586.96" y="257.09" font-size="8.8" fill="#262626" textLength="5.5" lengthAdjust="spacingAndGlyphs" stroke="#262626" stroke-width="0.16">6</text>
<text x="619.65" y="257.09" font-size="8.8" fill="#262626" textLength="5.33" lengthAdjust="spacingAndGlyphs" stroke="#262626" stroke-width="0.16">0</text>
<text x="498.04" y="277.25" font-size="9" fill="#262626" textLength="5.33" lengthAdjust="spacingAndGlyphs" stroke="#262626" stroke-width="0.16">0</text>
<text x="526.65" y="277.25" font-size="9" fill="#262626" textLength="10.69" lengthAdjust="spacingAndGlyphs" stroke="#262626" stroke-width="0.16">25</text>
<text x="556.24" y="277.25" font-size="9" fill="#262626" textLength="10.53" lengthAdjust="spacingAndGlyphs" stroke="#262626" stroke-width="0.16">50</text>
<text x="586.35" y="277.21" font-size="9" fill="#262626" textLength="10.69" lengthAdjust="spacingAndGlyphs" stroke="#262626" stroke-width="0.16">75</text>
<text x="614.38" y="277.25" font-size="9" fill="#262626" textLength="15.77" lengthAdjust="spacingAndGlyphs" stroke="#262626" stroke-width="0.16">100</text>
<text x="535.07" y="291.37" font-size="8.8" fill="#222" textLength="55.71" lengthAdjust="spacing" stroke="#222" stroke-width="0.16">Time(months)</text>
<text transform="translate(461.8,280.31) rotate(-90)" font-size="9.4" fill="#111" font-weight="bold" textLength="92.06" lengthAdjust="spacing" stroke="#111" stroke-width="0.16">EPAS1 expression</text>
<text x="104.13" y="325.58" font-size="10.4" fill="#111" word-spacing="1.5" font-weight="bold" textLength="142.07" lengthAdjust="spacing" stroke="#111" stroke-width="0.16">Overall Survival Probability</text>
<text x="14.39" y="353.6" font-size="7.6" fill="#1e1e1e" word-spacing="1.5" textLength="20.87" lengthAdjust="spacing" stroke="#1e1e1e" stroke-width="0.16">Points</text>
<text x="14.39" y="368" font-size="7.6" fill="#1e1e1e" word-spacing="1.5" textLength="38.87" lengthAdjust="spacing" stroke="#1e1e1e" stroke-width="0.16">RISS stage</text>
<text x="14.39" y="383.2" font-size="7.6" fill="#1e1e1e" word-spacing="1.5" textLength="22.85" lengthAdjust="spacing" stroke="#1e1e1e" stroke-width="0.16">EPAS1</text>
<text x="14.85" y="397.9" font-size="7.6" fill="#1e1e1e" word-spacing="1.5" textLength="40.31" lengthAdjust="spacing" stroke="#1e1e1e" stroke-width="0.16">Total Points</text>
<text x="14.43" y="412.7" font-size="7.6" fill="#1e1e1e" word-spacing="1.5" textLength="35.13" lengthAdjust="spacing" stroke="#1e1e1e" stroke-width="0.16">1-year OS</text>
<text x="14.62" y="428" font-size="7.6" fill="#1e1e1e" word-spacing="1.5" textLength="34.94" lengthAdjust="spacing" stroke="#1e1e1e" stroke-width="0.16">2-year OS</text>
<text x="14.85" y="443.1" font-size="7.6" fill="#1e1e1e" word-spacing="1.5" textLength="34.71" lengthAdjust="spacing" stroke="#1e1e1e" stroke-width="0.16">4-year OS</text>
<line x1="62.7" y1="350.5" x2="298.9" y2="350.5" stroke="#444" stroke-width="1"/>
<line x1="62.7" y1="348.7" x2="62.7" y2="350.5" stroke="#444" stroke-width="0.8"/>
<line x1="68.61" y1="349.4" x2="68.61" y2="350.5" stroke="#444" stroke-width="0.8"/>
<line x1="74.51" y1="349.4" x2="74.51" y2="350.5" stroke="#444" stroke-width="0.8"/>
<line x1="80.42" y1="349.4" x2="80.42" y2="350.5" stroke="#444" stroke-width="0.8"/>
<line x1="86.32" y1="348.7" x2="86.32" y2="350.5" stroke="#444" stroke-width="0.8"/>
<line x1="92.23" y1="349.4" x2="92.23" y2="350.5" stroke="#444" stroke-width="0.8"/>
<line x1="98.13" y1="349.4" x2="98.13" y2="350.5" stroke="#444" stroke-width="0.8"/>
<line x1="104.03" y1="349.4" x2="104.03" y2="350.5" stroke="#444" stroke-width="0.8"/>
<line x1="109.94" y1="348.7" x2="109.94" y2="350.5" stroke="#444" stroke-width="0.8"/>
<line x1="115.84" y1="349.4" x2="115.84" y2="350.5" stroke="#444" stroke-width="0.8"/>
<line x1="121.75" y1="349.4" x2="121.75" y2="350.5" stroke="#444" stroke-width="0.8"/>
<line x1="127.66" y1="349.4" x2="127.66" y2="350.5" stroke="#444" stroke-width="0.8"/>
<line x1="133.56" y1="348.7" x2="133.56" y2="350.5" stroke="#444" stroke-width="0.8"/>
<line x1="139.47" y1="349.4" x2="139.47" y2="350.5" stroke="#444" stroke-width="0.8"/>
<line x1="145.37" y1="349.4" x2="145.37" y2="350.5" stroke="#444" stroke-width="0.8"/>
<line x1="151.28" y1="349.4" x2="151.28" y2="350.5" stroke="#444" stroke-width="0.8"/>
<line x1="157.18" y1="348.7" x2="157.18" y2="350.5" stroke="#444" stroke-width="0.8"/>
<line x1="163.09" y1="349.4" x2="163.09" y2="350.5" stroke="#444" stroke-width="0.8"/>
<line x1="168.99" y1="349.4" x2="168.99" y2="350.5" stroke="#444" stroke-width="0.8"/>
<line x1="174.9" y1="349.4" x2="174.9" y2="350.5" stroke="#444" stroke-width="0.8"/>
<line x1="180.8" y1="348.7" x2="180.8" y2="350.5" stroke="#444" stroke-width="0.8"/>
<line x1="186.71" y1="349.4" x2="186.71" y2="350.5" stroke="#444" stroke-width="0.8"/>
<line x1="192.61" y1="349.4" x2="192.61" y2="350.5" stroke="#444" stroke-width="0.8"/>
<line x1="198.51" y1="349.4" x2="198.51" y2="350.5" stroke="#444" stroke-width="0.8"/>
<line x1="204.42" y1="348.7" x2="204.42" y2="350.5" stroke="#444" stroke-width="0.8"/>
<line x1="210.32" y1="349.4" x2="210.32" y2="350.5" stroke="#444" stroke-width="0.8"/>
<line x1="216.23" y1="349.4" x2="216.23" y2="350.5" stroke="#444" stroke-width="0.8"/>
<line x1="222.13" y1="349.4" x2="222.13" y2="350.5" stroke="#444" stroke-width="0.8"/>
<line x1="228.04" y1="348.7" x2="228.04" y2="350.5" stroke="#444" stroke-width="0.8"/>
<line x1="233.94" y1="349.4" x2="233.94" y2="350.5" stroke="#444" stroke-width="0.8"/>
<line x1="239.85" y1="349.4" x2="239.85" y2="350.5" stroke="#444" stroke-width="0.8"/>
<line x1="245.75" y1="349.4" x2="245.75" y2="350.5" stroke="#444" stroke-width="0.8"/>
<line x1="251.66" y1="348.7" x2="251.66" y2="350.5" stroke="#444" stroke-width="0.8"/>
<line x1="257.56" y1="349.4" x2="257.56" y2="350.5" stroke="#444" stroke-width="0.8"/>
<line x1="263.47" y1="349.4" x2="263.47" y2="350.5" stroke="#444" stroke-width="0.8"/>
<line x1="269.38" y1="349.4" x2="269.38" y2="350.5" stroke="#444" stroke-width="0.8"/>
<line x1="275.28" y1="348.7" x2="275.28" y2="350.5" stroke="#444" stroke-width="0.8"/>
<line x1="281.19" y1="349.4" x2="281.19" y2="350.5" stroke="#444" stroke-width="0.8"/>
<line x1="287.09" y1="349.4" x2="287.09" y2="350.5" stroke="#444" stroke-width="0.8"/>
<line x1="293" y1="349.4" x2="293" y2="350.5" stroke="#444" stroke-width="0.8"/>
<line x1="298.9" y1="348.7" x2="298.9" y2="350.5" stroke="#444" stroke-width="0.8"/>
<text x="62.7" y="346.8" font-size="4.6" fill="#444" text-anchor="middle" >0</text>
<text x="86.32" y="346.8" font-size="4.6" fill="#444" text-anchor="middle" >10</text>
<text x="109.94" y="346.8" font-size="4.6" fill="#444" text-anchor="middle" >20</text>
<text x="133.56" y="346.8" font-size="4.6" fill="#444" text-anchor="middle" >30</text>
<text x="157.18" y="346.8" font-size="4.6" fill="#444" text-anchor="middle" >40</text>
<text x="180.8" y="346.8" font-size="4.6" fill="#444" text-anchor="middle" >50</text>
<text x="204.42" y="346.8" font-size="4.6" fill="#444" text-anchor="middle" >60</text>
<text x="228.04" y="346.8" font-size="4.6" fill="#444" text-anchor="middle" >70</text>
<text x="251.66" y="346.8" font-size="4.6" fill="#444" text-anchor="middle" >80</text>
<text x="275.28" y="346.8" font-size="4.6" fill="#444" text-anchor="middle" >90</text>
<text x="298.9" y="346.8" font-size="4.6" fill="#444" text-anchor="middle" >100</text>
<line x1="62.7" y1="365.4" x2="298.9" y2="365.4" stroke="#444" stroke-width="1"/>
<line x1="62.7" y1="365.4" x2="62.7" y2="367.2" stroke="#444" stroke-width="0.8"/>
<line x1="298.9" y1="365.4" x2="298.9" y2="367.2" stroke="#444" stroke-width="0.8"/>
<line x1="278.2" y1="365.4" x2="278.2" y2="363.6" stroke="#444" stroke-width="0.8"/>
<text x="62.7" y="374.6" font-size="4.6" fill="#444" text-anchor="middle" >1</text>
<text x="298.9" y="374.6" font-size="4.6" fill="#444" text-anchor="middle" >3</text>
<text x="278.2" y="361.1" font-size="4.6" fill="#444" text-anchor="middle" >2</text>
<line x1="62.7" y1="379.7" x2="161.7" y2="379.7" stroke="#444" stroke-width="1"/>
<line x1="62.7" y1="379.7" x2="62.7" y2="381.5" stroke="#444" stroke-width="0.8"/>
<line x1="161.7" y1="379.7" x2="161.7" y2="381.5" stroke="#444" stroke-width="0.8"/>
<line x1="149.3" y1="379.7" x2="149.3" y2="377.9" stroke="#444" stroke-width="0.8"/>
<text x="62.7" y="388.9" font-size="4.6" fill="#444" text-anchor="middle" >3</text>
<text x="161.7" y="388.9" font-size="4.6" fill="#444" text-anchor="middle" >1</text>
<text x="149.3" y="375.4" font-size="4.6" fill="#444" text-anchor="middle" >2</text>
<line x1="62.7" y1="394" x2="298.86" y2="394" stroke="#444" stroke-width="1"/>
<line x1="62.7" y1="392.2" x2="62.7" y2="394" stroke="#444" stroke-width="0.8"/>
<line x1="68.6" y1="392.9" x2="68.6" y2="394" stroke="#444" stroke-width="0.8"/>
<line x1="74.51" y1="392.9" x2="74.51" y2="394" stroke="#444" stroke-width="0.8"/>
<line x1="80.41" y1="392.9" x2="80.41" y2="394" stroke="#444" stroke-width="0.8"/>
<line x1="86.32" y1="392.9" x2="86.32" y2="394" stroke="#444" stroke-width="0.8"/>
<line x1="92.22" y1="392.2" x2="92.22" y2="394" stroke="#444" stroke-width="0.8"/>
<line x1="98.12" y1="392.9" x2="98.12" y2="394" stroke="#444" stroke-width="0.8"/>
<line x1="104.03" y1="392.9" x2="104.03" y2="394" stroke="#444" stroke-width="0.8"/>
<line x1="109.93" y1="392.9" x2="109.93" y2="394" stroke="#444" stroke-width="0.8"/>
<line x1="115.84" y1="392.9" x2="115.84" y2="394" stroke="#444" stroke-width="0.8"/>
<line x1="121.74" y1="392.2" x2="121.74" y2="394" stroke="#444" stroke-width="0.8"/>
<line x1="127.64" y1="392.9" x2="127.64" y2="394" stroke="#444" stroke-width="0.8"/>
<line x1="133.55" y1="392.9" x2="133.55" y2="394" stroke="#444" stroke-width="0.8"/>
<line x1="139.45" y1="392.9" x2="139.45" y2="394" stroke="#444" stroke-width="0.8"/>
<line x1="145.36" y1="392.9" x2="145.36" y2="394" stroke="#444" stroke-width="0.8"/>
<line x1="151.26" y1="392.2" x2="151.26" y2="394" stroke="#444" stroke-width="0.8"/>
<line x1="157.16" y1="392.9" x2="157.16" y2="394" stroke="#444" stroke-width="0.8"/>
<line x1="163.07" y1="392.9" x2="163.07" y2="394" stroke="#444" stroke-width="0.8"/>
<line x1="168.97" y1="392.9" x2="168.97" y2="394" stroke="#444" stroke-width="0.8"/>
<line x1="174.88" y1="392.9" x2="174.88" y2="394" stroke="#444" stroke-width="0.8"/>
<line x1="180.78" y1="392.2" x2="180.78" y2="394" stroke="#444" stroke-width="0.8"/>
<line x1="186.68" y1="392.9" x2="186.68" y2="394" stroke="#444" stroke-width="0.8"/>
<line x1="192.59" y1="392.9" x2="192.59" y2="394" stroke="#444" stroke-width="0.8"/>
<line x1="198.49" y1="392.9" x2="198.49" y2="394" stroke="#444" stroke-width="0.8"/>
<line x1="204.4" y1="392.9" x2="204.4" y2="394" stroke="#444" stroke-width="0.8"/>
<line x1="210.3" y1="392.2" x2="210.3" y2="394" stroke="#444" stroke-width="0.8"/>
<line x1="216.2" y1="392.9" x2="216.2" y2="394" stroke="#444" stroke-width="0.8"/>
<line x1="222.11" y1="392.9" x2="222.11" y2="394" stroke="#444" stroke-width="0.8"/>
<line x1="228.01" y1="392.9" x2="228.01" y2="394" stroke="#444" stroke-width="0.8"/>
<line x1="233.92" y1="392.9" x2="233.92" y2="394" stroke="#444" stroke-width="0.8"/>
<line x1="239.82" y1="392.2" x2="239.82" y2="394" stroke="#444" stroke-width="0.8"/>
<line x1="245.72" y1="392.9" x2="245.72" y2="394" stroke="#444" stroke-width="0.8"/>
<line x1="251.63" y1="392.9" x2="251.63" y2="394" stroke="#444" stroke-width="0.8"/>
<line x1="257.53" y1="392.9" x2="257.53" y2="394" stroke="#444" stroke-width="0.8"/>
<line x1="263.44" y1="392.9" x2="263.44" y2="394" stroke="#444" stroke-width="0.8"/>
<line x1="269.34" y1="392.2" x2="269.34" y2="394" stroke="#444" stroke-width="0.8"/>
<line x1="275.24" y1="392.9" x2="275.24" y2="394" stroke="#444" stroke-width="0.8"/>
<line x1="281.15" y1="392.9" x2="281.15" y2="394" stroke="#444" stroke-width="0.8"/>
<line x1="287.05" y1="392.9" x2="287.05" y2="394" stroke="#444" stroke-width="0.8"/>
<line x1="292.96" y1="392.9" x2="292.96" y2="394" stroke="#444" stroke-width="0.8"/>
<line x1="298.86" y1="392.2" x2="298.86" y2="394" stroke="#444" stroke-width="0.8"/>
<text x="62.7" y="402.4" font-size="4.6" fill="#444" text-anchor="middle" >0</text>
<text x="92.22" y="402.4" font-size="4.6" fill="#444" text-anchor="middle" >20</text>
<text x="121.74" y="402.4" font-size="4.6" fill="#444" text-anchor="middle" >40</text>
<text x="151.26" y="402.4" font-size="4.6" fill="#444" text-anchor="middle" >60</text>
<text x="180.78" y="402.4" font-size="4.6" fill="#444" text-anchor="middle" >80</text>
<text x="210.3" y="402.4" font-size="4.6" fill="#444" text-anchor="middle" >100</text>
<text x="239.82" y="402.4" font-size="4.6" fill="#444" text-anchor="middle" >120</text>
<text x="269.34" y="402.4" font-size="4.6" fill="#444" text-anchor="middle" >140</text>
<text x="298.86" y="402.4" font-size="4.6" fill="#444" text-anchor="middle" >160</text>
<line x1="120.3" y1="407.6" x2="284.6" y2="407.6" stroke="#444" stroke-width="1"/>
<line x1="120.3" y1="407.6" x2="120.3" y2="409.4" stroke="#444" stroke-width="0.8"/>
<text x="120.3" y="417" font-size="4.6" fill="#444" text-anchor="middle" >0.98</text>
<line x1="168.2" y1="407.6" x2="168.2" y2="409.4" stroke="#444" stroke-width="0.8"/>
<text x="168.2" y="417" font-size="4.6" fill="#444" text-anchor="middle" >0.96</text>
<line x1="197.3" y1="407.6" x2="197.3" y2="409.4" stroke="#444" stroke-width="0.8"/>
<text x="197.3" y="417" font-size="4.6" fill="#444" text-anchor="middle" >0.94</text>
<line x1="217.4" y1="407.6" x2="217.4" y2="409.4" stroke="#444" stroke-width="0.8"/>
<text x="217.4" y="417" font-size="4.6" fill="#444" text-anchor="middle" >0.92</text>
<line x1="233.5" y1="407.6" x2="233.5" y2="409.4" stroke="#444" stroke-width="0.8"/>
<text x="233.5" y="417" font-size="4.6" fill="#444" text-anchor="middle" >0.9</text>
<line x1="246" y1="407.6" x2="246" y2="409.4" stroke="#444" stroke-width="0.8"/>
<text x="246" y="417" font-size="4.6" fill="#444" text-anchor="middle" >0.88</text>
<line x1="257.3" y1="407.6" x2="257.3" y2="409.4" stroke="#444" stroke-width="0.8"/>
<text x="257.3" y="417" font-size="4.6" fill="#444" text-anchor="middle" >0.86</text>
<line x1="267.5" y1="407.6" x2="267.5" y2="409.4" stroke="#444" stroke-width="0.8"/>
<text x="267.5" y="417" font-size="4.6" fill="#444" text-anchor="middle" >0.84</text>
<line x1="276.5" y1="407.6" x2="276.5" y2="409.4" stroke="#444" stroke-width="0.8"/>
<text x="276.5" y="417" font-size="4.6" fill="#444" text-anchor="middle" >0.82</text>
<line x1="284.6" y1="407.6" x2="284.6" y2="409.4" stroke="#444" stroke-width="0.8"/>
<text x="284.6" y="417" font-size="4.6" fill="#444" text-anchor="middle" >0.8</text>
<line x1="151.4" y1="421.9" x2="284.3" y2="421.9" stroke="#444" stroke-width="1"/>
<line x1="151.4" y1="421.9" x2="151.4" y2="423.7" stroke="#444" stroke-width="0.8"/>
<text x="151.4" y="431.3" font-size="4.6" fill="#444" text-anchor="middle" >0.95</text>
<line x1="200.4" y1="421.9" x2="200.4" y2="423.7" stroke="#444" stroke-width="0.8"/>
<text x="200.4" y="431.3" font-size="4.6" fill="#444" text-anchor="middle" >0.9</text>
<line x1="229.7" y1="421.9" x2="229.7" y2="423.7" stroke="#444" stroke-width="0.8"/>
<text x="229.7" y="431.3" font-size="4.6" fill="#444" text-anchor="middle" >0.85</text>
<line x1="251.5" y1="421.9" x2="251.5" y2="423.7" stroke="#444" stroke-width="0.8"/>
<text x="251.5" y="431.3" font-size="4.6" fill="#444" text-anchor="middle" >0.8</text>
<line x1="269.3" y1="421.9" x2="269.3" y2="423.7" stroke="#444" stroke-width="0.8"/>
<text x="269.3" y="431.3" font-size="4.6" fill="#444" text-anchor="middle" >0.75</text>
<line x1="284.3" y1="421.9" x2="284.3" y2="423.7" stroke="#444" stroke-width="0.8"/>
<text x="284.3" y="431.3" font-size="4.6" fill="#444" text-anchor="middle" >0.7</text>
<line x1="100.1" y1="435.7" x2="287.9" y2="435.7" stroke="#444" stroke-width="1"/>
<line x1="100.1" y1="435.7" x2="100.1" y2="437.5" stroke="#444" stroke-width="0.8"/>
<text x="100.1" y="445.1" font-size="4.6" fill="#444" text-anchor="middle" >0.95</text>
<line x1="149.3" y1="435.7" x2="149.3" y2="437.5" stroke="#444" stroke-width="0.8"/>
<text x="149.3" y="445.1" font-size="4.6" fill="#444" text-anchor="middle" >0.9</text>
<line x1="178.5" y1="435.7" x2="178.5" y2="437.5" stroke="#444" stroke-width="0.8"/>
<text x="178.5" y="445.1" font-size="4.6" fill="#444" text-anchor="middle" >0.85</text>
<line x1="200.4" y1="435.7" x2="200.4" y2="437.5" stroke="#444" stroke-width="0.8"/>
<text x="200.4" y="445.1" font-size="4.6" fill="#444" text-anchor="middle" >0.8</text>
<line x1="218.4" y1="435.7" x2="218.4" y2="437.5" stroke="#444" stroke-width="0.8"/>
<text x="218.4" y="445.1" font-size="4.6" fill="#444" text-anchor="middle" >0.75</text>
<line x1="232.7" y1="435.7" x2="232.7" y2="437.5" stroke="#444" stroke-width="0.8"/>
<text x="232.7" y="445.1" font-size="4.6" fill="#444" text-anchor="middle" >0.7</text>
<line x1="245.8" y1="435.7" x2="245.8" y2="437.5" stroke="#444" stroke-width="0.8"/>
<text x="245.8" y="445.1" font-size="4.6" fill="#444" text-anchor="middle" >0.65</text>
<line x1="257.3" y1="435.7" x2="257.3" y2="437.5" stroke="#444" stroke-width="0.8"/>
<text x="257.3" y="445.1" font-size="4.6" fill="#444" text-anchor="middle" >0.6</text>
<line x1="268.5" y1="435.7" x2="268.5" y2="437.5" stroke="#444" stroke-width="0.8"/>
<text x="268.5" y="445.1" font-size="4.6" fill="#444" text-anchor="middle" >0.55</text>
<line x1="278.7" y1="435.7" x2="278.7" y2="437.5" stroke="#444" stroke-width="0.8"/>
<text x="278.7" y="445.1" font-size="4.6" fill="#444" text-anchor="middle" >0.5</text>
<line x1="287.9" y1="435.7" x2="287.9" y2="437.5" stroke="#444" stroke-width="0.8"/>
<text x="287.9" y="445.1" font-size="4.6" fill="#444" text-anchor="middle" >0.45</text>
<text x="406.07" y="325.53" font-size="10.4" fill="#111" word-spacing="1.5" font-weight="bold" textLength="195.72" lengthAdjust="spacing" stroke="#111" stroke-width="0.16">Progression Free Survival Probability</text>
<text x="357.99" y="353.6" font-size="7.6" fill="#1e1e1e" word-spacing="1.5" textLength="20.87" lengthAdjust="spacing" stroke="#1e1e1e" stroke-width="0.16">Points</text>
<text x="357.99" y="368" font-size="7.6" fill="#1e1e1e" word-spacing="1.5" textLength="38.87" lengthAdjust="spacing" stroke="#1e1e1e" stroke-width="0.16">RISS stage</text>
<text x="357.99" y="383.4" font-size="7.6" fill="#1e1e1e" word-spacing="1.5" textLength="22.85" lengthAdjust="spacing" stroke="#1e1e1e" stroke-width="0.16">EPAS1</text>
<text x="358.45" y="398.2" font-size="7.6" fill="#1e1e1e" word-spacing="1.5" textLength="40.31" lengthAdjust="spacing" stroke="#1e1e1e" stroke-width="0.16">Total Points</text>
<text x="358.03" y="413.2" font-size="7.6" fill="#1e1e1e" word-spacing="1.5" textLength="35.13" lengthAdjust="spacing" stroke="#1e1e1e" stroke-width="0.16">1-year OS</text>
<text x="358.22" y="428.3" font-size="7.6" fill="#1e1e1e" word-spacing="1.5" textLength="34.94" lengthAdjust="spacing" stroke="#1e1e1e" stroke-width="0.16">2-year OS</text>
<text x="358.45" y="443.4" font-size="7.6" fill="#1e1e1e" word-spacing="1.5" textLength="34.71" lengthAdjust="spacing" stroke="#1e1e1e" stroke-width="0.16">4-year OS</text>
<line x1="406.3" y1="348" x2="658.3" y2="348" stroke="#444" stroke-width="1"/>
<line x1="406.3" y1="346.2" x2="406.3" y2="348" stroke="#444" stroke-width="0.8"/>
<line x1="412.6" y1="346.9" x2="412.6" y2="348" stroke="#444" stroke-width="0.8"/>
<line x1="418.9" y1="346.9" x2="418.9" y2="348" stroke="#444" stroke-width="0.8"/>
<line x1="425.2" y1="346.9" x2="425.2" y2="348" stroke="#444" stroke-width="0.8"/>
<line x1="431.5" y1="346.2" x2="431.5" y2="348" stroke="#444" stroke-width="0.8"/>
<line x1="437.8" y1="346.9" x2="437.8" y2="348" stroke="#444" stroke-width="0.8"/>
<line x1="444.1" y1="346.9" x2="444.1" y2="348" stroke="#444" stroke-width="0.8"/>
<line x1="450.4" y1="346.9" x2="450.4" y2="348" stroke="#444" stroke-width="0.8"/>
<line x1="456.7" y1="346.2" x2="456.7" y2="348" stroke="#444" stroke-width="0.8"/>
<line x1="463" y1="346.9" x2="463" y2="348" stroke="#444" stroke-width="0.8"/>
<line x1="469.3" y1="346.9" x2="469.3" y2="348" stroke="#444" stroke-width="0.8"/>
<line x1="475.6" y1="346.9" x2="475.6" y2="348" stroke="#444" stroke-width="0.8"/>
<line x1="481.9" y1="346.2" x2="481.9" y2="348" stroke="#444" stroke-width="0.8"/>
<line x1="488.2" y1="346.9" x2="488.2" y2="348" stroke="#444" stroke-width="0.8"/>
<line x1="494.5" y1="346.9" x2="494.5" y2="348" stroke="#444" stroke-width="0.8"/>
<line x1="500.8" y1="346.9" x2="500.8" y2="348" stroke="#444" stroke-width="0.8"/>
<line x1="507.1" y1="346.2" x2="507.1" y2="348" stroke="#444" stroke-width="0.8"/>
<line x1="513.4" y1="346.9" x2="513.4" y2="348" stroke="#444" stroke-width="0.8"/>
<line x1="519.7" y1="346.9" x2="519.7" y2="348" stroke="#444" stroke-width="0.8"/>
<line x1="526" y1="346.9" x2="526" y2="348" stroke="#444" stroke-width="0.8"/>
<line x1="532.3" y1="346.2" x2="532.3" y2="348" stroke="#444" stroke-width="0.8"/>
<line x1="538.6" y1="346.9" x2="538.6" y2="348" stroke="#444" stroke-width="0.8"/>
<line x1="544.9" y1="346.9" x2="544.9" y2="348" stroke="#444" stroke-width="0.8"/>
<line x1="551.2" y1="346.9" x2="551.2" y2="348" stroke="#444" stroke-width="0.8"/>
<line x1="557.5" y1="346.2" x2="557.5" y2="348" stroke="#444" stroke-width="0.8"/>
<line x1="563.8" y1="346.9" x2="563.8" y2="348" stroke="#444" stroke-width="0.8"/>
<line x1="570.1" y1="346.9" x2="570.1" y2="348" stroke="#444" stroke-width="0.8"/>
<line x1="576.4" y1="346.9" x2="576.4" y2="348" stroke="#444" stroke-width="0.8"/>
<line x1="582.7" y1="346.2" x2="582.7" y2="348" stroke="#444" stroke-width="0.8"/>
<line x1="589" y1="346.9" x2="589" y2="348" stroke="#444" stroke-width="0.8"/>
<line x1="595.3" y1="346.9" x2="595.3" y2="348" stroke="#444" stroke-width="0.8"/>
<line x1="601.6" y1="346.9" x2="601.6" y2="348" stroke="#444" stroke-width="0.8"/>
<line x1="607.9" y1="346.2" x2="607.9" y2="348" stroke="#444" stroke-width="0.8"/>
<line x1="614.2" y1="346.9" x2="614.2" y2="348" stroke="#444" stroke-width="0.8"/>
<line x1="620.5" y1="346.9" x2="620.5" y2="348" stroke="#444" stroke-width="0.8"/>
<line x1="626.8" y1="346.9" x2="626.8" y2="348" stroke="#444" stroke-width="0.8"/>
<line x1="633.1" y1="346.2" x2="633.1" y2="348" stroke="#444" stroke-width="0.8"/>
<line x1="639.4" y1="346.9" x2="639.4" y2="348" stroke="#444" stroke-width="0.8"/>
<line x1="645.7" y1="346.9" x2="645.7" y2="348" stroke="#444" stroke-width="0.8"/>
<line x1="652" y1="346.9" x2="652" y2="348" stroke="#444" stroke-width="0.8"/>
<line x1="658.3" y1="346.2" x2="658.3" y2="348" stroke="#444" stroke-width="0.8"/>
<text x="406.3" y="344.3" font-size="4.6" fill="#444" text-anchor="middle" >0</text>
<text x="431.5" y="344.3" font-size="4.6" fill="#444" text-anchor="middle" >10</text>
<text x="456.7" y="344.3" font-size="4.6" fill="#444" text-anchor="middle" >20</text>
<text x="481.9" y="344.3" font-size="4.6" fill="#444" text-anchor="middle" >30</text>
<text x="507.1" y="344.3" font-size="4.6" fill="#444" text-anchor="middle" >40</text>
<text x="532.3" y="344.3" font-size="4.6" fill="#444" text-anchor="middle" >50</text>
<text x="557.5" y="344.3" font-size="4.6" fill="#444" text-anchor="middle" >60</text>
<text x="582.7" y="344.3" font-size="4.6" fill="#444" text-anchor="middle" >70</text>
<text x="607.9" y="344.3" font-size="4.6" fill="#444" text-anchor="middle" >80</text>
<text x="633.1" y="344.3" font-size="4.6" fill="#444" text-anchor="middle" >90</text>
<text x="658.3" y="344.3" font-size="4.6" fill="#444" text-anchor="middle" >100</text>
<line x1="406.3" y1="363.8" x2="658.3" y2="363.8" stroke="#444" stroke-width="1"/>
<line x1="406.3" y1="363.8" x2="406.3" y2="365.6" stroke="#444" stroke-width="0.8"/>
<line x1="658.3" y1="363.8" x2="658.3" y2="365.6" stroke="#444" stroke-width="0.8"/>
<line x1="591.2" y1="363.8" x2="591.2" y2="362" stroke="#444" stroke-width="0.8"/>
<text x="406.3" y="373" font-size="4.6" fill="#444" text-anchor="middle" >1</text>
<text x="658.3" y="373" font-size="4.6" fill="#444" text-anchor="middle" >3</text>
<text x="591.2" y="359.5" font-size="4.6" fill="#444" text-anchor="middle" >2</text>
<line x1="406.3" y1="378.4" x2="537.4" y2="378.4" stroke="#444" stroke-width="1"/>
<line x1="406.3" y1="378.4" x2="406.3" y2="380.2" stroke="#444" stroke-width="0.8"/>
<line x1="537.4" y1="378.4" x2="537.4" y2="380.2" stroke="#444" stroke-width="0.8"/>
<line x1="496.9" y1="378.4" x2="496.9" y2="376.6" stroke="#444" stroke-width="0.8"/>
<text x="406.3" y="387.6" font-size="4.6" fill="#444" text-anchor="middle" >3</text>
<text x="537.4" y="387.6" font-size="4.6" fill="#444" text-anchor="middle" >1</text>
<text x="496.9" y="374.1" font-size="4.6" fill="#444" text-anchor="middle" >2</text>
<line x1="406.3" y1="394.2" x2="658.7" y2="394.2" stroke="#444" stroke-width="1"/>
<line x1="406.3" y1="392.4" x2="406.3" y2="394.2" stroke="#444" stroke-width="0.8"/>
<line x1="412.61" y1="393.1" x2="412.61" y2="394.2" stroke="#444" stroke-width="0.8"/>
<line x1="418.92" y1="393.1" x2="418.92" y2="394.2" stroke="#444" stroke-width="0.8"/>
<line x1="425.23" y1="393.1" x2="425.23" y2="394.2" stroke="#444" stroke-width="0.8"/>
<line x1="431.54" y1="393.1" x2="431.54" y2="394.2" stroke="#444" stroke-width="0.8"/>
<line x1="437.85" y1="392.4" x2="437.85" y2="394.2" stroke="#444" stroke-width="0.8"/>
<line x1="444.16" y1="393.1" x2="444.16" y2="394.2" stroke="#444" stroke-width="0.8"/>
<line x1="450.47" y1="393.1" x2="450.47" y2="394.2" stroke="#444" stroke-width="0.8"/>
<line x1="456.78" y1="393.1" x2="456.78" y2="394.2" stroke="#444" stroke-width="0.8"/>
<line x1="463.09" y1="393.1" x2="463.09" y2="394.2" stroke="#444" stroke-width="0.8"/>
<line x1="469.4" y1="392.4" x2="469.4" y2="394.2" stroke="#444" stroke-width="0.8"/>
<line x1="475.71" y1="393.1" x2="475.71" y2="394.2" stroke="#444" stroke-width="0.8"/>
<line x1="482.02" y1="393.1" x2="482.02" y2="394.2" stroke="#444" stroke-width="0.8"/>
<line x1="488.33" y1="393.1" x2="488.33" y2="394.2" stroke="#444" stroke-width="0.8"/>
<line x1="494.64" y1="393.1" x2="494.64" y2="394.2" stroke="#444" stroke-width="0.8"/>
<line x1="500.95" y1="392.4" x2="500.95" y2="394.2" stroke="#444" stroke-width="0.8"/>
<line x1="507.26" y1="393.1" x2="507.26" y2="394.2" stroke="#444" stroke-width="0.8"/>
<line x1="513.57" y1="393.1" x2="513.57" y2="394.2" stroke="#444" stroke-width="0.8"/>
<line x1="519.88" y1="393.1" x2="519.88" y2="394.2" stroke="#444" stroke-width="0.8"/>
<line x1="526.19" y1="393.1" x2="526.19" y2="394.2" stroke="#444" stroke-width="0.8"/>
<line x1="532.5" y1="392.4" x2="532.5" y2="394.2" stroke="#444" stroke-width="0.8"/>
<line x1="538.81" y1="393.1" x2="538.81" y2="394.2" stroke="#444" stroke-width="0.8"/>
<line x1="545.12" y1="393.1" x2="545.12" y2="394.2" stroke="#444" stroke-width="0.8"/>
<line x1="551.43" y1="393.1" x2="551.43" y2="394.2" stroke="#444" stroke-width="0.8"/>
<line x1="557.74" y1="393.1" x2="557.74" y2="394.2" stroke="#444" stroke-width="0.8"/>
<line x1="564.05" y1="392.4" x2="564.05" y2="394.2" stroke="#444" stroke-width="0.8"/>
<line x1="570.36" y1="393.1" x2="570.36" y2="394.2" stroke="#444" stroke-width="0.8"/>
<line x1="576.67" y1="393.1" x2="576.67" y2="394.2" stroke="#444" stroke-width="0.8"/>
<line x1="582.98" y1="393.1" x2="582.98" y2="394.2" stroke="#444" stroke-width="0.8"/>
<line x1="589.29" y1="393.1" x2="589.29" y2="394.2" stroke="#444" stroke-width="0.8"/>
<line x1="595.6" y1="392.4" x2="595.6" y2="394.2" stroke="#444" stroke-width="0.8"/>
<line x1="601.91" y1="393.1" x2="601.91" y2="394.2" stroke="#444" stroke-width="0.8"/>
<line x1="608.22" y1="393.1" x2="608.22" y2="394.2" stroke="#444" stroke-width="0.8"/>
<line x1="614.53" y1="393.1" x2="614.53" y2="394.2" stroke="#444" stroke-width="0.8"/>
<line x1="620.84" y1="393.1" x2="620.84" y2="394.2" stroke="#444" stroke-width="0.8"/>
<line x1="627.15" y1="392.4" x2="627.15" y2="394.2" stroke="#444" stroke-width="0.8"/>
<line x1="633.46" y1="393.1" x2="633.46" y2="394.2" stroke="#444" stroke-width="0.8"/>
<line x1="639.77" y1="393.1" x2="639.77" y2="394.2" stroke="#444" stroke-width="0.8"/>
<line x1="646.08" y1="393.1" x2="646.08" y2="394.2" stroke="#444" stroke-width="0.8"/>
<line x1="652.39" y1="393.1" x2="652.39" y2="394.2" stroke="#444" stroke-width="0.8"/>
<line x1="658.7" y1="392.4" x2="658.7" y2="394.2" stroke="#444" stroke-width="0.8"/>
<text x="406.3" y="402.6" font-size="4.6" fill="#444" text-anchor="middle" >0</text>
<text x="437.85" y="402.6" font-size="4.6" fill="#444" text-anchor="middle" >20</text>
<text x="469.4" y="402.6" font-size="4.6" fill="#444" text-anchor="middle" >40</text>
<text x="500.95" y="402.6" font-size="4.6" fill="#444" text-anchor="middle" >60</text>
<text x="532.5" y="402.6" font-size="4.6" fill="#444" text-anchor="middle" >80</text>
<text x="564.05" y="402.6" font-size="4.6" fill="#444" text-anchor="middle" >100</text>
<text x="595.6" y="402.6" font-size="4.6" fill="#444" text-anchor="middle" >120</text>
<text x="627.15" y="402.6" font-size="4.6" fill="#444" text-anchor="middle" >140</text>
<text x="658.7" y="402.6" font-size="4.6" fill="#444" text-anchor="middle" >160</text>
<line x1="453.3" y1="408.9" x2="654.7" y2="408.9" stroke="#444" stroke-width="1"/>
<line x1="453.3" y1="408.9" x2="453.3" y2="410.7" stroke="#444" stroke-width="0.8"/>
<text x="453.3" y="418.3" font-size="4.6" fill="#444" text-anchor="middle" >0.95</text>
<line x1="521.5" y1="408.9" x2="521.5" y2="410.7" stroke="#444" stroke-width="0.8"/>
<text x="521.5" y="418.3" font-size="4.6" fill="#444" text-anchor="middle" >0.9</text>
<line x1="562.6" y1="408.9" x2="562.6" y2="410.7" stroke="#444" stroke-width="0.8"/>
<text x="562.6" y="418.3" font-size="4.6" fill="#444" text-anchor="middle" >0.85</text>
<line x1="592.3" y1="408.9" x2="592.3" y2="410.7" stroke="#444" stroke-width="0.8"/>
<text x="592.3" y="418.3" font-size="4.6" fill="#444" text-anchor="middle" >0.8</text>
<line x1="616.2" y1="408.9" x2="616.2" y2="410.7" stroke="#444" stroke-width="0.8"/>
<text x="616.2" y="418.3" font-size="4.6" fill="#444" text-anchor="middle" >0.75</text>
<line x1="636.7" y1="408.9" x2="636.7" y2="410.7" stroke="#444" stroke-width="0.8"/>
<text x="636.7" y="418.3" font-size="4.6" fill="#444" text-anchor="middle" >0.7</text>
<line x1="654.7" y1="408.9" x2="654.7" y2="410.7" stroke="#444" stroke-width="0.8"/>
<text x="654.7" y="418.3" font-size="4.6" fill="#444" text-anchor="middle" >0.65</text>
<line x1="458.9" y1="424.4" x2="650.5" y2="424.4" stroke="#444" stroke-width="1"/>
<line x1="458.9" y1="424.4" x2="458.9" y2="426.2" stroke="#444" stroke-width="0.8"/>
<text x="458.9" y="433.8" font-size="4.6" fill="#444" text-anchor="middle" >0.9</text>
<line x1="500" y1="424.4" x2="500" y2="426.2" stroke="#444" stroke-width="0.8"/>
<text x="500" y="433.8" font-size="4.6" fill="#444" text-anchor="middle" >0.85</text>
<line x1="529.6" y1="424.4" x2="529.6" y2="426.2" stroke="#444" stroke-width="0.8"/>
<text x="529.6" y="433.8" font-size="4.6" fill="#444" text-anchor="middle" >0.8</text>
<line x1="554" y1="424.4" x2="554" y2="426.2" stroke="#444" stroke-width="0.8"/>
<text x="554" y="433.8" font-size="4.6" fill="#444" text-anchor="middle" >0.75</text>
<line x1="574.5" y1="424.4" x2="574.5" y2="426.2" stroke="#444" stroke-width="0.8"/>
<text x="574.5" y="433.8" font-size="4.6" fill="#444" text-anchor="middle" >0.7</text>
<line x1="591.9" y1="424.4" x2="591.9" y2="426.2" stroke="#444" stroke-width="0.8"/>
<text x="591.9" y="433.8" font-size="4.6" fill="#444" text-anchor="middle" >0.65</text>
<line x1="608.2" y1="424.4" x2="608.2" y2="426.2" stroke="#444" stroke-width="0.8"/>
<text x="608.2" y="433.8" font-size="4.6" fill="#444" text-anchor="middle" >0.6</text>
<line x1="623.2" y1="424.4" x2="623.2" y2="426.2" stroke="#444" stroke-width="0.8"/>
<text x="623.2" y="433.8" font-size="4.6" fill="#444" text-anchor="middle" >0.55</text>
<line x1="637.4" y1="424.4" x2="637.4" y2="426.2" stroke="#444" stroke-width="0.8"/>
<text x="637.4" y="433.8" font-size="4.6" fill="#444" text-anchor="middle" >0.5</text>
<line x1="650.5" y1="424.4" x2="650.5" y2="426.2" stroke="#444" stroke-width="0.8"/>
<text x="650.5" y="433.8" font-size="4.6" fill="#444" text-anchor="middle" >0.45</text>
<line x1="445.5" y1="439.5" x2="631.7" y2="439.5" stroke="#444" stroke-width="1"/>
<line x1="445.5" y1="439.5" x2="445.5" y2="441.3" stroke="#444" stroke-width="0.8"/>
<text x="445.5" y="448.9" font-size="4.6" fill="#444" text-anchor="middle" >0.8</text>
<line x1="489.5" y1="439.5" x2="489.5" y2="441.3" stroke="#444" stroke-width="0.8"/>
<text x="489.5" y="448.9" font-size="4.6" fill="#444" text-anchor="middle" >0.7</text>
<line x1="523.3" y1="439.5" x2="523.3" y2="441.3" stroke="#444" stroke-width="0.8"/>
<text x="523.3" y="448.9" font-size="4.6" fill="#444" text-anchor="middle" >0.6</text>
<line x1="552.3" y1="439.5" x2="552.3" y2="441.3" stroke="#444" stroke-width="0.8"/>
<text x="552.3" y="448.9" font-size="4.6" fill="#444" text-anchor="middle" >0.5</text>
<line x1="578.5" y1="439.5" x2="578.5" y2="441.3" stroke="#444" stroke-width="0.8"/>
<text x="578.5" y="448.9" font-size="4.6" fill="#444" text-anchor="middle" >0.4</text>
<line x1="604.6" y1="439.5" x2="604.6" y2="441.3" stroke="#444" stroke-width="0.8"/>
<text x="604.6" y="448.9" font-size="4.6" fill="#444" text-anchor="middle" >0.3</text>
<line x1="631.7" y1="439.5" x2="631.7" y2="441.3" stroke="#444" stroke-width="0.8"/>
<text x="631.7" y="448.9" font-size="4.6" fill="#444" text-anchor="middle" >0.2</text>
</svg>
</body></html>
